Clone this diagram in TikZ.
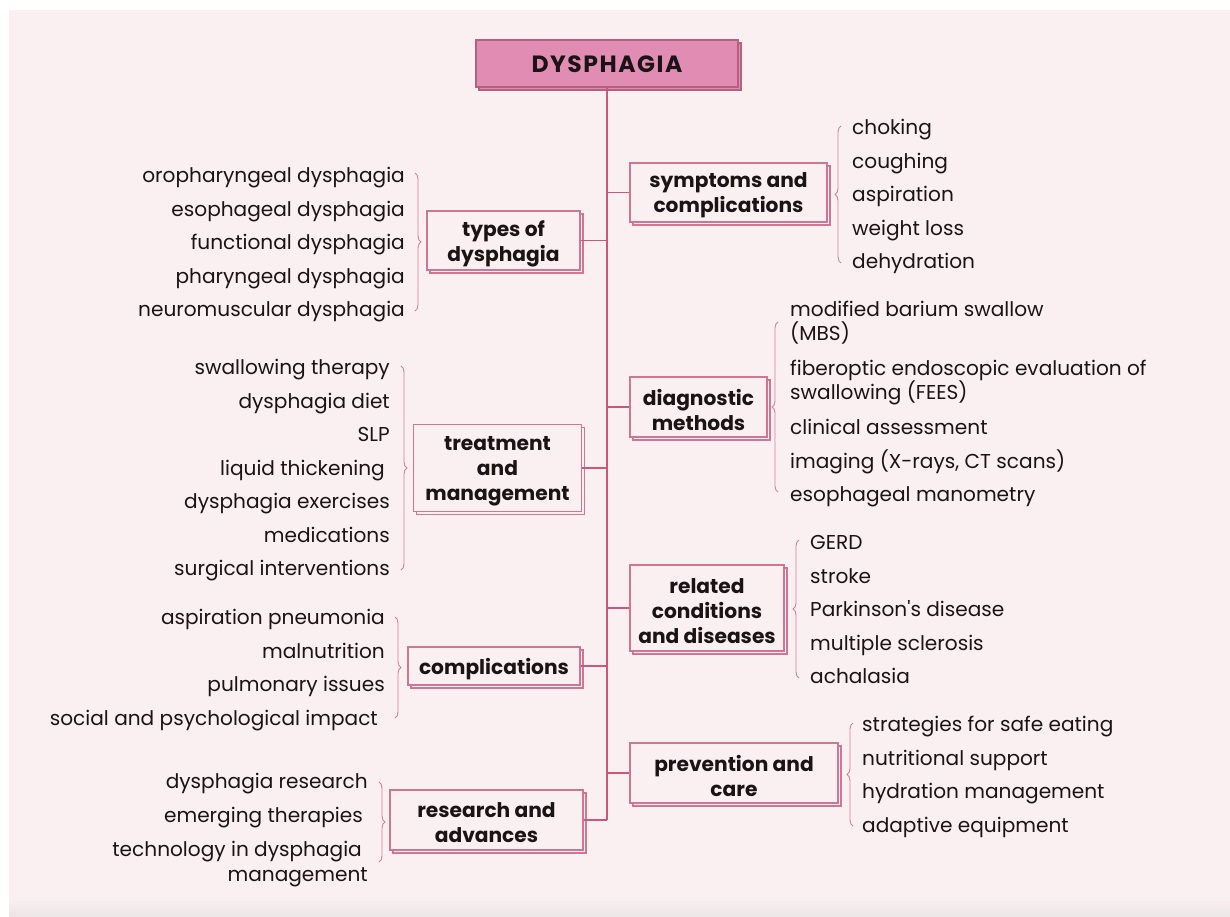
\documentclass[tikz,border=0pt]{standalone}
\usepackage{fontspec}
\setmainfont{Poppins}
\newfontfamily\titlefont[LetterSpace=6.5]{Poppins}
\usetikzlibrary{decorations.pathreplacing}

\definecolor{bg}{HTML}{FAF0F2}
\definecolor{foot}{HTML}{ECE6E7}
\definecolor{ink}{HTML}{1B1416}
\definecolor{linkc}{HTML}{C9587E}
\definecolor{boxline}{HTML}{CF7596}
\definecolor{bracec}{HTML}{D2809E}
\definecolor{titlefill}{HTML}{E18DB3}
\definecolor{titleline}{HTML}{B4637F}

\tikzset{
  conn/.style={draw=linkc, line width=1.6pt},
  branchbox/.style={draw=boxline, fill=bg, line width=1.3pt, inner sep=0pt},
  branchtext/.style={inner sep=0pt, align=center, text=ink,
    font=\bfseries\fontsize{20.2}{25}\selectfont},
  titlebox/.style={draw=titleline, fill=titlefill, line width=1.3pt, inner sep=0pt},
  titletext/.style={inner sep=0pt, text=ink, font=\titlefont\bfseries\fontsize{23.5}{26}\selectfont},
  leafL/.style={anchor=mid east, inner sep=0pt, text=ink, font=\fontsize{20.1}{24}\selectfont},
  leafR/.style={anchor=mid west, inner sep=0pt, text=ink, font=\fontsize{20.1}{24}\selectfont},
  bracket/.style={draw=bracec, line width=0.9pt, decorate,
    decoration={brace, amplitude=6pt}},
}

% a branch box with its offset copy behind it, and its label
\newcommand{\branchnode}[6]{%
  \node[branchbox, minimum width=#4pt, minimum height=#5pt] at (#2+3,#3+3) {};
  \node[branchbox, minimum width=#4pt, minimum height=#5pt] (#1) at (#2,#3) {};
  \node[branchtext] (#1-label) at (#2,#3+3) {#6};
}

\begin{document}
\begin{tikzpicture}[x=1pt, y=-1pt]
\useasboundingbox (0,0) rectangle (1230,916);
\fill[white] (0,0) rectangle (1230,916);
\fill[bg] (9,10) rectangle (1230,897);
\shade[top color=bg, bottom color=foot] (9,896) rectangle (1230,916);

% title
\node[titlebox, minimum width=262pt, minimum height=47pt] at (610,66.5) {};
\node[titlebox, minimum width=262pt, minimum height=47pt] (title) at (607,63.5) {};
\node[titletext] (title-label) at (607,64) {DYSPHAGIA};

% branches
\branchnode{types}{503.5}{240.5}{153}{59}{types of\\dysphagia}
\branchnode{treat}{497.5}{468}{168}{87}{treatment\\and\\management}
\branchnode{compl}{494}{666}{172}{38}{complications}
\branchnode{research}{486.5}{820}{193}{60}{research and\\advances}
\branchnode{sympt}{728.5}{192.5}{197}{59}{symptoms and\\complications}
\branchnode{diag}{698.5}{407}{137}{60}{diagnostic\\methods}
\branchnode{related}{707}{608}{154}{86}{related\\conditions\\and diseases}
\branchnode{prev}{734}{773}{208}{60}{prevention and\\care}

% spine and links
\coordinate (spineend) at (607,820);
\draw[conn] (title.south) -- (spineend);
\foreach \b in {types,treat,compl,research,sympt,diag,related,prev}
  \draw[conn] (\b) -- (\b -| spineend);

% types of dysphagia
\node[leafL] (t1) at (405,180) {oropharyngeal dysphagia};
\node[leafL] (t2) at (405,213.5) {esophageal dysphagia};
\node[leafL] (t3) at (405,247) {functional dysphagia};
\node[leafL] (t4) at (405,280.5) {pharyngeal dysphagia};
\node[leafL] (t5) at (405,314) {neuromuscular dysphagia};
\draw[bracket] (415,173) -- (415,311);

% treatment and management
\node[leafL] (m1) at (390,372) {swallowing therapy};
\node[leafL] (m2) at (390,405.5) {dysphagia diet};
\node[leafL] (m3) at (390,439) {SLP};
\node[leafL] (m4) at (385,472.5) {liquid thickening};
\node[leafL] (m5) at (390,506) {dysphagia exercises};
\node[leafL] (m6) at (390,539.5) {medications};
\node[leafL] (m7) at (390,573) {surgical interventions};
\draw[bracket] (401,366) -- (401,570);

% complications
\node[leafL] (c1) at (385,622) {aspiration pneumonia};
\node[leafL] (c2) at (385,655.5) {malnutrition};
\node[leafL] (c3) at (385,689) {pulmonary issues};
\node[leafL] (c4) at (378,722.5) {social and psychological impact};
\draw[bracket] (395,617) -- (395,718);

% research and advances
\node[leafL] (r1) at (368,786) {dysphagia research};
\node[leafL] (r2) at (363,820) {emerging therapies};
\node[leafL] (r3) at (362,854) {technology in dysphagia};
\node[leafL] (r4) at (368,879) {management};
\draw[bracket] (379,782) -- (379,862);

% symptoms and complications
\node[leafR] (s1) at (852,132) {choking};
\node[leafR] (s2) at (852,165.5) {coughing};
\node[leafR] (s3) at (852,199) {aspiration};
\node[leafR] (s4) at (852,232.5) {weight loss};
\node[leafR] (s5) at (852,266) {dehydration};
\draw[bracket] (841,263) -- (841,126);

% diagnostic methods
\node[leafR] (d1) at (790,314) {modified barium swallow};
\node[leafR] (d1b) at (790,338) {(MBS)};
\node[leafR] (d2) at (790,373) {fiberoptic endoscopic evaluation of};
\node[leafR] (d2b) at (790,397) {swallowing (FEES)};
\node[leafR] (d3) at (790,432) {clinical assessment};
\node[leafR] (d4) at (790,465.5) {imaging (X-rays, CT scans)};
\node[leafR] (d5) at (790,499) {esophageal manometry};
\draw[bracket] (778,492) -- (778,322);

% related conditions and diseases
\node[leafR] (g1) at (810,547) {GERD};
\node[leafR] (g2) at (810,580.5) {stroke};
\node[leafR] (g3) at (810,614) {Parkinson\textquotesingle s disease};
\node[leafR] (g4) at (810,647.5) {multiple sclerosis};
\node[leafR] (g5) at (810,681) {achalasia};
\draw[bracket] (799,678) -- (799,540);

% prevention and care
\node[leafR] (p1) at (862,729) {strategies for safe eating};
\node[leafR] (p2) at (862,762.5) {nutritional support};
\node[leafR] (p3) at (862,796) {hydration management};
\node[leafR] (p4) at (862,829.5) {adaptive equipment};
\draw[bracket] (853,826) -- (853,723);
\end{tikzpicture}
\end{document}
